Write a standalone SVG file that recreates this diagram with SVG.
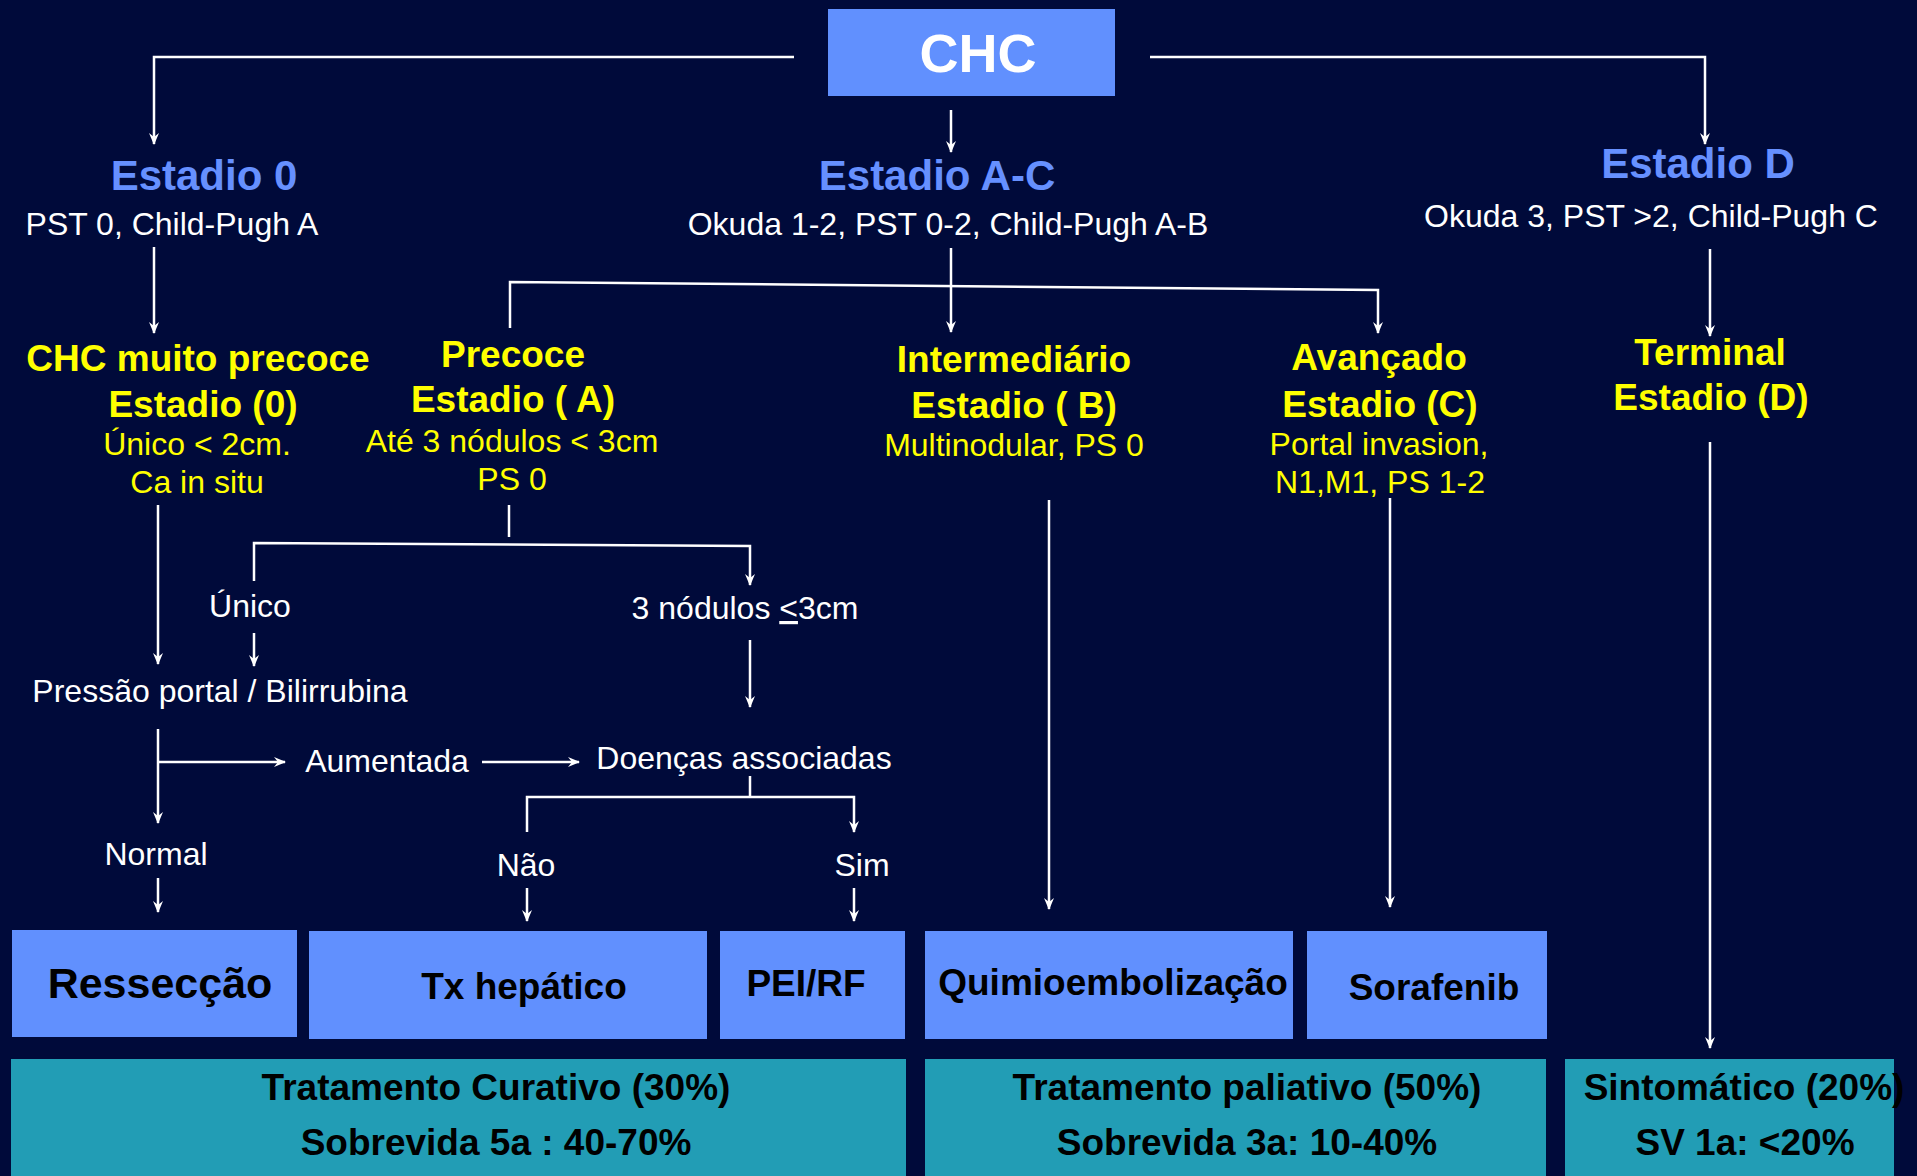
<svg xmlns="http://www.w3.org/2000/svg" width="1917" height="1176" viewBox="0 0 1917 1176">
<defs>
<marker id="arr" viewBox="0 0 12 10" refX="11" refY="5" markerWidth="12" markerHeight="10" markerUnits="userSpaceOnUse" orient="auto">
<path d="M0,0 L12,5 L0,10 L4,5 z" fill="#ffffff"/>
</marker>
<style>
.bg{fill:#000A3A}
.box{fill:#6190FE}
.teal{fill:#229DB5}
.ln{stroke:#ffffff;stroke-width:2.5;fill:none}
.ar{stroke:#ffffff;stroke-width:2.5;fill:none;marker-end:url(#arr)}
text{font-family:"Liberation Sans",Arial,sans-serif;text-anchor:middle}
.blue{fill:#6690FF;font-weight:bold;font-size:42px}
.wh{fill:#ffffff;font-size:32px}
.yb{fill:#FFFF00;font-weight:bold;font-size:37px}
.yn{fill:#FFFF00;font-size:32px}
.bk{fill:#000000;font-weight:bold;font-size:37px}
.bkl{fill:#000000;font-weight:bold;font-size:43px}
</style>
</defs>
<rect class="bg" x="0" y="0" width="1917" height="1176"/>

<g id="connectors">
<polyline class="ar" points="794,57 154,57 154,144"/>
<polyline class="ar" points="1150,57 1705,57 1705,144"/>
<line class="ar" x1="951" y1="110" x2="951" y2="152"/>
<line class="ar" x1="154" y1="247" x2="154" y2="333"/>
<line class="ar" x1="951" y1="248" x2="951" y2="332"/>
<polyline class="ar" points="510,328 510,282 1378,290 1378,333"/>
<line class="ar" x1="1710" y1="249" x2="1710" y2="336"/>
<line class="ar" x1="158" y1="505" x2="158" y2="664"/>
<line class="ln" x1="509" y1="505" x2="509" y2="537"/>
<polyline class="ar" points="254,581 254,543 750,546 750,585"/>
<line class="ar" x1="254" y1="633" x2="254" y2="666"/>
<line class="ar" x1="750" y1="640" x2="750" y2="707"/>
<line class="ar" x1="158" y1="729" x2="158" y2="823"/>
<line class="ar" x1="158" y1="762" x2="285" y2="762"/>
<line class="ar" x1="482" y1="762" x2="579" y2="762"/>
<line class="ln" x1="750" y1="776" x2="750" y2="797"/>
<polyline class="ar" points="527,832 527,797 854,797 854,832"/>
<line class="ar" x1="158" y1="878" x2="158" y2="912"/>
<line class="ar" x1="527" y1="888" x2="527" y2="921"/>
<line class="ar" x1="854" y1="888" x2="854" y2="921"/>
<line class="ar" x1="1049" y1="500" x2="1049" y2="909"/>
<line class="ar" x1="1390" y1="498" x2="1390" y2="907"/>
<line class="ar" x1="1710" y1="442" x2="1710" y2="1048"/>
</g>

<g id="chc">
<rect class="box" x="828" y="9" width="287" height="87"/>
<text x="978" y="72" fill="#ffffff" font-weight="bold" font-size="54">CHC</text>
</g>

<g id="estadio0">
<text class="blue" x="204" y="190">Estadio 0</text>
<text class="wh" x="172" y="235">PST 0, Child-Pugh A</text>
</g>
<g id="estadioAC">
<text class="blue" x="937" y="190">Estadio A-C</text>
<text class="wh" x="948" y="235">Okuda 1-2, PST 0-2, Child-Pugh A-B</text>
</g>
<g id="estadioD">
<text class="blue" x="1698" y="178">Estadio D</text>
<text class="wh" x="1651" y="227">Okuda 3, PST &gt;2, Child-Pugh C</text>
</g>

<g id="muitoPrecoce">
<text class="yb" x="198" y="371">CHC muito precoce</text>
<text class="yb" x="203" y="417">Estadio (0)</text>
<text class="yn" x="197" y="455">Único &lt; 2cm.</text>
<text class="yn" x="197" y="493">Ca in situ</text>
</g>
<g id="precoce">
<text class="yb" x="513" y="367">Precoce</text>
<text class="yb" x="513" y="412">Estadio ( A)</text>
<text class="yn" x="512" y="452">Até 3 nódulos &lt; 3cm</text>
<text class="yn" x="512" y="490">PS 0</text>
</g>
<g id="intermediario">
<text class="yb" x="1014" y="372">Intermediário</text>
<text class="yb" x="1014" y="418">Estadio ( B)</text>
<text class="yn" x="1014" y="456">Multinodular, PS 0</text>
</g>
<g id="avancado">
<text class="yb" x="1379" y="370">Avançado</text>
<text class="yb" x="1380" y="417">Estadio (C)</text>
<text class="yn" x="1379" y="455">Portal invasion,</text>
<text class="yn" x="1380" y="493">N1,M1, PS 1-2</text>
</g>
<g id="terminal">
<text class="yb" x="1710" y="365">Terminal</text>
<text class="yb" x="1711" y="410">Estadio (D)</text>
</g>

<g id="unico"><text class="wh" x="250" y="617">Único</text></g>
<g id="tresNodulos"><text class="wh" x="745" y="619">3 nódulos <tspan text-decoration="underline">&lt;</tspan>3cm</text></g>
<g id="pressao"><text class="wh" x="220" y="702">Pressão portal / Bilirrubina</text></g>
<g id="aumentada"><text class="wh" x="387" y="772">Aumentada</text></g>
<g id="doencas"><text class="wh" x="744" y="769">Doenças associadas</text></g>
<g id="normal"><text class="wh" x="156" y="865">Normal</text></g>
<g id="nao"><text class="wh" x="526" y="876">Não</text></g>
<g id="sim"><text class="wh" x="862" y="876">Sim</text></g>

<g id="resseccao">
<rect class="box" x="12" y="930" width="285" height="107"/>
<text class="bkl" x="160" y="998">Ressecção</text>
</g>
<g id="txHepatico">
<rect class="box" x="309" y="931" width="398" height="108"/>
<text class="bk" x="524" y="999">Tx hepático</text>
</g>
<g id="peiRf">
<rect class="box" x="720" y="931" width="185" height="108"/>
<text class="bk" x="806" y="996">PEI/RF</text>
</g>
<g id="quimio">
<rect class="box" x="925" y="931" width="368" height="108"/>
<text class="bk" x="1113" y="995">Quimioembolização</text>
</g>
<g id="sorafenib">
<rect class="box" x="1307" y="931" width="240" height="108"/>
<text class="bk" x="1434" y="1000">Sorafenib</text>
</g>

<g id="curativo">
<rect class="teal" x="11" y="1059" width="895" height="130"/>
<text class="bk" x="496" y="1100">Tratamento Curativo (30%)</text>
<text class="bk" x="496" y="1155">Sobrevida 5a : 40-70%</text>
</g>
<g id="paliativo">
<rect class="teal" x="925" y="1059" width="621" height="130"/>
<text class="bk" x="1247" y="1100">Tratamento paliativo (50%)</text>
<text class="bk" x="1247" y="1155">Sobrevida 3a: 10-40%</text>
</g>
<g id="sintomatico">
<rect class="teal" x="1565" y="1059" width="329" height="130"/>
<text class="bk" x="1744" y="1100">Sintomático (20%)</text>
<text class="bk" x="1745" y="1155">SV 1a: &lt;20%</text>
</g>
</svg>
